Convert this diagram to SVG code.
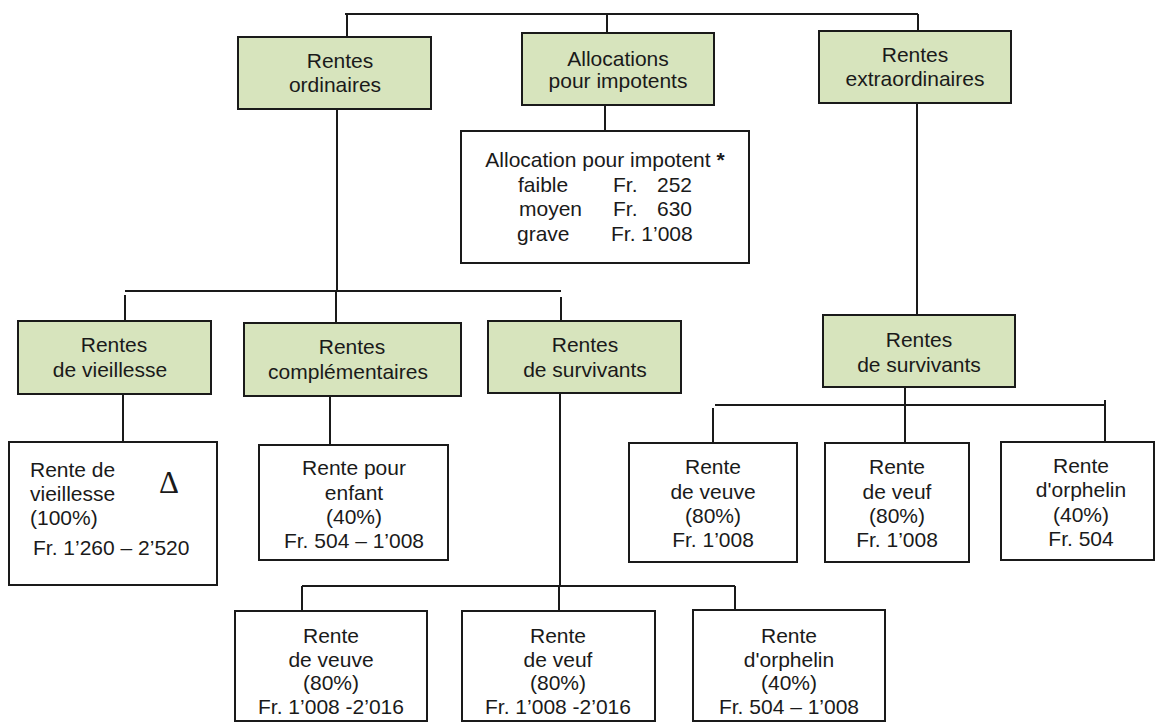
<svg xmlns="http://www.w3.org/2000/svg" width="1157" height="722" viewBox="0 0 1157 722">
<style>
.g{fill:#d7e4bd;stroke:#1a1a1a;stroke-width:2}
.w{fill:#fff;stroke:#1a1a1a;stroke-width:2}
.c{fill:none;stroke:#1a1a1a;stroke-width:2}
text{font-family:"Liberation Sans",Arial,sans-serif;font-size:21px;fill:#1a1a1a}
.m{text-anchor:middle}
</style>
<rect width="1157" height="722" fill="#fff"/>
<g id="connectors">
<path class="c" d="M345 14H918M347 14V37M607 14V33M918 14V31"/>
<path class="c" d="M605 105V131"/>
<path class="c" d="M337 109V291M125 291H561M125 295V321M336 291V323M561 297V321"/>
<path class="c" d="M123 394V442M330 396V445M560 393V586M302 586H735M302 586V611M559 586V611M735 586V611"/>
<path class="c" d="M917 103V315"/>
<path class="c" d="M905 387V443M715 405H1105M713 408V443M1105 400V442"/>
</g>
<g id="n-ordinaires"><rect class="g" x="238" y="37" width="193" height="72"/><text class="m" x="340" y="68">Rentes</text><text class="m" x="335" y="92">ordinaires</text></g>
<g id="n-allocations"><rect class="g" x="522" y="33" width="192" height="72"/><text class="m" x="618" y="66">Allocations</text><text class="m" x="618" y="88">pour impotents</text></g>
<g id="n-extra"><rect class="g" x="819" y="31" width="192" height="72"/><text class="m" x="915" y="62">Rentes</text><text class="m" x="915" y="86">extraordinaires</text></g>
<g id="n-allocation-detail"><rect class="w" x="461" y="131" width="288" height="132"/>
<text class="m" x="605" y="167">Allocation pour impotent <tspan font-weight="bold">*</tspan></text>
<text x="518" y="192">faible</text><text x="613" y="192">Fr.</text><text x="657" y="192">252</text>
<text x="519" y="216">moyen</text><text x="613" y="216">Fr.</text><text x="657" y="216">630</text>
<text x="517" y="241">grave</text><text x="611" y="241">Fr. 1’008</text></g>
<g id="n-vieillesse"><rect class="g" x="18" y="321" width="193" height="73"/><text class="m" x="114" y="352">Rentes</text><text class="m" x="110" y="377">de vieillesse</text></g>
<g id="n-complementaires"><rect class="g" x="244" y="323" width="217" height="73"/><text class="m" x="352" y="354">Rentes</text><text class="m" x="348" y="379">complémentaires</text></g>
<g id="n-survivants"><rect class="g" x="488" y="321" width="193" height="72"/><text class="m" x="585" y="352">Rentes</text><text class="m" x="585" y="377">de survivants</text></g>
<g id="n-survivants-extra"><rect class="g" x="823" y="315" width="192" height="72"/><text class="m" x="919" y="347">Rentes</text><text class="m" x="919" y="372">de survivants</text></g>
<g id="n-rente-vieillesse"><rect class="w" x="9" y="442" width="208" height="143"/>
<text x="30" y="477">Rente de</text><text x="30" y="501">vieillesse</text><text x="30" y="525">(100%)</text><text x="33" y="555">Fr. 1’260 – 2’520</text>
<text x="159" y="493" style="font-family:'Liberation Serif','Times New Roman',serif;font-size:31px">Δ</text></g>
<g id="n-enfant"><rect class="w" x="259" y="445" width="189" height="115"/>
<text class="m" x="354" y="475">Rente pour</text><text class="m" x="354" y="500">enfant</text><text class="m" x="354" y="524">(40%)</text><text class="m" x="354" y="548">Fr. 504 – 1’008</text></g>
<g id="n-veuve-o"><rect class="w" x="235" y="611" width="192" height="110"/>
<text class="m" x="331" y="643">Rente</text><text class="m" x="331" y="667">de veuve</text><text class="m" x="331" y="690">(80%)</text><text class="m" x="331" y="714">Fr. 1’008 -2’016</text></g>
<g id="n-veuf-o"><rect class="w" x="462" y="611" width="193" height="110"/>
<text class="m" x="558" y="643">Rente</text><text class="m" x="558" y="667">de veuf</text><text class="m" x="558" y="690">(80%)</text><text class="m" x="558" y="714">Fr. 1’008 -2’016</text></g>
<g id="n-orphelin-o"><rect class="w" x="693" y="610" width="192" height="111"/>
<text class="m" x="789" y="643">Rente</text><text class="m" x="789" y="667">d'orphelin</text><text class="m" x="789" y="690">(40%)</text><text class="m" x="789" y="714">Fr. 504 – 1’008</text></g>
<g id="n-veuve-e"><rect class="w" x="629" y="443" width="168" height="119"/>
<text class="m" x="713" y="474">Rente</text><text class="m" x="713" y="499">de veuve</text><text class="m" x="713" y="523">(80%)</text><text class="m" x="713" y="547">Fr. 1’008</text></g>
<g id="n-veuf-e"><rect class="w" x="825" y="443" width="144" height="119"/>
<text class="m" x="897" y="474">Rente</text><text class="m" x="897" y="499">de veuf</text><text class="m" x="897" y="523">(80%)</text><text class="m" x="897" y="547">Fr. 1’008</text></g>
<g id="n-orphelin-e"><rect class="w" x="1001" y="442" width="153" height="118"/>
<text class="m" x="1081" y="473">Rente</text><text class="m" x="1081" y="497">d'orphelin</text><text class="m" x="1081" y="522">(40%)</text><text class="m" x="1081" y="546">Fr. 504</text></g>
</svg>
